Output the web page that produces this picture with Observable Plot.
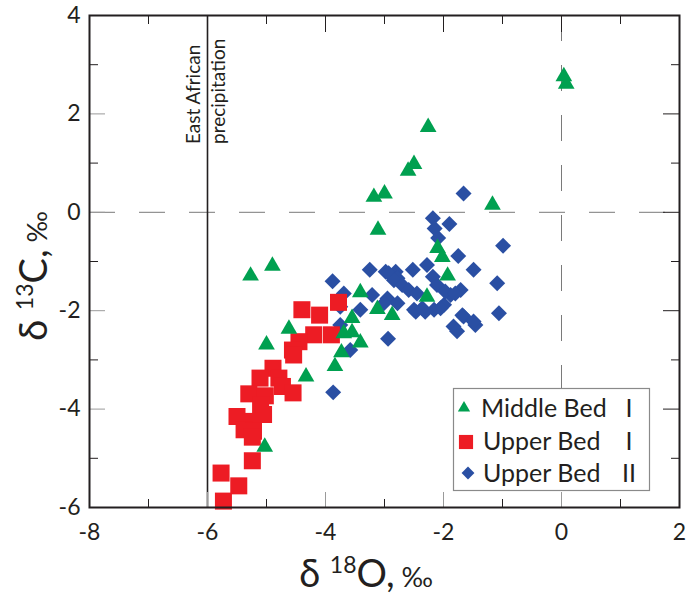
<!DOCTYPE html>
<html>
<head>
<meta charset="utf-8">
<script src="https://cdn.jsdelivr.net/npm/d3@7"></script>
<script src="https://cdn.jsdelivr.net/npm/@observablehq/plot@0.6"></script>
<style>
  body { margin: 0; background: #fff; }
  svg { display: block; }
</style>
</head>
<body>
<script>
// ---- data (δ18O, δ13C) ----
const middleBedI = [
  [0.04,2.76],[0.08,2.61],[-2.26,1.73],[-2.50,0.98],[-2.60,0.84],[-3.18,0.31],[-3.00,0.38],
  [-1.17,0.15],[-3.11,-0.36],[-2.10,-0.73],[-2.02,-0.91],[-1.93,-1.29],[-2.28,-1.72],
  [-5.27,-1.29],[-4.90,-1.09],[-4.62,-2.37],[-5.00,-2.69],[-4.33,-3.34],[-5.03,-4.77],
  [-3.41,-1.63],[-3.12,-1.97],[-2.87,-2.09],[-3.55,-2.15],[-3.69,-2.46],[-3.55,-2.44],
  [-3.41,-2.65],[-3.73,-2.85],[-3.84,-3.13]
];
const upperBedI = [
  [-4.40,-1.98],[-4.10,-2.09],[-3.78,-1.83],[-4.20,-2.49],[-3.90,-2.49],[-4.45,-2.63],
  [-4.56,-2.80],[-4.54,-2.90],[-4.89,-3.17],[-5.11,-3.37],[-4.79,-3.37],[-4.73,-3.54],
  [-4.55,-3.67],[-5.30,-3.69],[-5.02,-3.73],[-5.10,-3.91],[-5.05,-4.11],[-5.50,-4.15],
  [-5.22,-4.25],[-5.38,-4.42],[-5.22,-4.45],[-5.24,-4.57],[-5.24,-5.05],[-5.77,-5.30],
  [-5.47,-5.56],[-5.73,-5.87]
];
const upperBedII = [
  [-1.66,0.38],[-2.18,-0.12],[-1.90,-0.24],[-2.15,-0.33],[-2.09,-0.52],[-0.99,-0.68],
  [-1.75,-0.89],[-2.28,-1.07],[-3.25,-1.17],[-2.98,-1.21],[-2.81,-1.21],[-2.52,-1.17],
  [-1.49,-1.17],[-3.88,-1.40],[-2.18,-1.31],[-1.09,-1.44],[-1.71,-1.58],[-1.88,-1.68],
  [-1.99,-1.88],[-2.16,-1.98],[-1.06,-2.05],[-1.66,-2.12],[-1.46,-2.29],[-1.83,-2.32],
  [-1.77,-2.42],[-2.93,-1.24],[-2.78,-1.34],[-3.69,-1.65],[-3.21,-1.68],[-2.95,-1.75],
  [-2.78,-1.85],[-3.01,-1.85],[-2.47,-2.02],[-2.31,-2.02],[-3.75,-1.92],[-3.41,-1.98],
  [-3.75,-2.29],[-2.94,-2.57],[-3.58,-2.80],[-3.87,-3.66],[-2.84,-1.38],[-2.70,-1.48],
  [-2.59,-1.58],[-2.45,-1.65],[-2.11,-1.48],[-1.97,-1.61],[-1.80,-1.65],[-2.50,-1.98],
  [-2.36,-1.95],[-2.05,-1.95],[-1.68,-2.09],[-1.49,-2.22]
];
const seriesNames = ["Middle Bed", "Upper Bed", "Upper Bed"];
const seriesRoman = ["I", "I", "II"];
const seriesColors = ["#00a050", "#ed1c24", "#2a4fa3"];
const xMajor = [-8, -6, -4, -2, 0, 2];
const xMinor = [-7, -5, -3, -1, 1];
const yMajor = [-6, -4, -2, 0, 2, 4];
const yMinor = [-5, -3, -1, 1, 3];
const precipLine = [-6];
const precipLabel = ["East African", "precipitation"];
const refLines = [0];

const ink = "#231f20";
const fmt = d => String(d);
const font = "Lato, 'Open Sans', sans-serif";

const plot = Plot.plot({
  width: 695, height: 595,
  marginLeft: 89, marginRight: 16, marginTop: 15, marginBottom: 88,
  x: {domain: [-8, 2], label: null},
  y: {domain: [-6, 4], label: null},
  style: {fontFamily: font, fontSize: "23px", color: ink, background: "#fff"},
  marks: [
    Plot.ruleY(refLines, {stroke: "#7a7a7a", strokeWidth: 1, strokeDasharray: "26,24"}),
    Plot.ruleX(refLines, {stroke: "#7a7a7a", strokeWidth: 1, strokeDasharray: "26,24"}),
    Plot.ruleX(precipLine, {stroke: ink, strokeWidth: 1.6}),
    Plot.dot(upperBedII, {x: d => d[0], y: d => d[1], symbol: "diamond2", r: 7.2, fill: seriesColors[2]}),
    Plot.dot(upperBedI, {x: d => d[0], y: d => d[1], symbol: "square", r: 9.6, fill: seriesColors[1]}),
    Plot.dot(middleBedI, {x: d => d[0], y: d => d[1], symbol: "triangle", r: 6.2, fill: seriesColors[0]}),
    // ticks (inward)
    Plot.axisX(xMajor, {anchor: "bottom", tickSize: -15, text: null, label: null, stroke: "#9a9a9a"}),
    Plot.axisX(xMinor, {anchor: "bottom", tickSize: -8, text: null, label: null, stroke: ink}),
    Plot.axisX(xMajor, {anchor: "top", tickSize: -16, text: null, label: null, stroke: ink}),
    Plot.axisX(xMinor, {anchor: "top", tickSize: -8, text: null, label: null, stroke: ink}),
    Plot.axisY(yMajor, {anchor: "left", tickSize: -16, text: null, label: null, stroke: "#9a9a9a"}),
    Plot.axisY(yMinor, {anchor: "left", tickSize: -9, text: null, label: null, stroke: ink}),
    Plot.axisY(yMajor, {anchor: "right", tickSize: -17, text: null, label: null, stroke: ink}),
    Plot.axisY(yMinor, {anchor: "right", tickSize: -9, text: null, label: null, stroke: ink}),
    // tick labels
    Plot.axisX(xMajor, {anchor: "bottom", tickSize: 0, tickPadding: 16, tickFormat: fmt, fontSize: 23, fill: ink, label: null}),
    Plot.axisY(yMajor, {anchor: "left", tickSize: 0, tickPadding: 9, tickFormat: fmt, fontSize: 23, fill: ink, label: null}),
    Plot.frame({stroke: ink, strokeWidth: 2})
  ]
});
document.body.appendChild(plot);

const svg = d3.select(plot);
const xs = plot.scale("x");

// precipitation label
const px = xs.apply(precipLine[0]);
[[precipLabel[0], px - 7], [precipLabel[1], px + 18]].forEach(([t, x]) => {
  svg.append("text")
    .attr("transform", `translate(${x},144) rotate(-90)`)
    .attr("text-anchor", "start")
    .attr("font-family", font).attr("font-size", 19).attr("fill", ink)
    .text(t);
});

// axis titles
function title(g, iso) {
  g.attr("font-family", font).attr("fill", ink).attr("text-anchor", "middle");
  g.append("tspan").attr("font-size", 38).text("δ ");
  g.append("tspan").attr("font-size", 23).attr("dy", -14).text(iso);
  g.append("tspan").attr("font-size", 38).attr("dy", 14).text(iso === "18" ? "O," : "C,");
  g.append("tspan").attr("font-size", 27).text(" ‰");
}
title(svg.append("text").attr("x", 366).attr("y", 587), "18");
title(svg.append("text").attr("transform", "translate(47,276) rotate(-90)"), "13");

// legend
const lg = svg.append("g").attr("text-anchor", "start");
lg.append("rect").attr("x", 453.5).attr("y", 388.5).attr("width", 196).attr("height", 102)
  .attr("fill", "#fff").attr("stroke", "#8a8a8a").attr("stroke-width", 1.2);
const rows = [
  {y: 417, sym: d3.symbolTriangle, size: 65, sx: 464, sy: 408},
  {y: 450, sym: d3.symbolSquare, size: 200, sx: 466, sy: 442},
  {y: 482, sym: d3.symbolDiamond2, size: 105, sx: 468, sy: 473}
];
rows.forEach((r, i) => {
  lg.append("path").attr("d", d3.symbol(r.sym, r.size)()).attr("transform", `translate(${r.sx},${r.sy})`)
    .attr("fill", seriesColors[i]);
  lg.append("text").attr("x", i === 0 ? 481 : 483).attr("y", r.y).attr("text-anchor", "start")
    .attr("font-family", font).attr("font-size", 25).attr("fill", ink).text(seriesNames[i]);
  lg.append("text").attr("x", 629).attr("y", r.y).attr("text-anchor", "middle")
    .attr("font-family", font).attr("font-size", 25).attr("fill", ink).text(seriesRoman[i]);
});
</script>
</body>
</html>
